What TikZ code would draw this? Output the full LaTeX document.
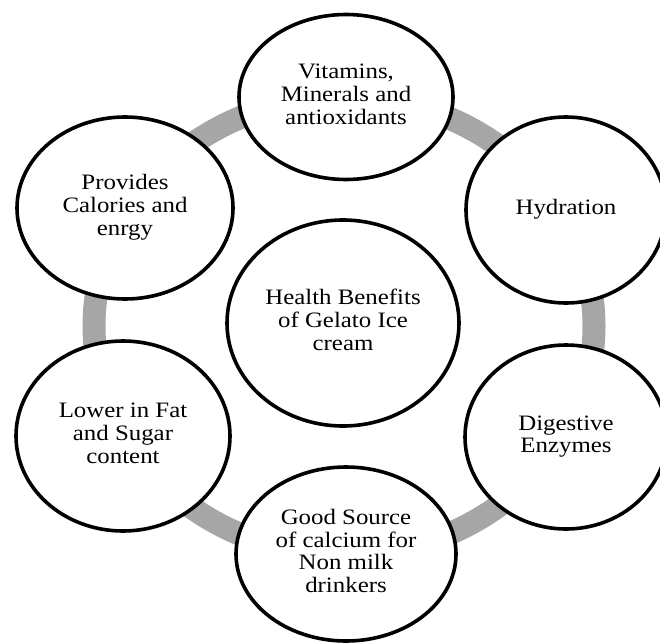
\documentclass[tikz,border=0pt]{standalone}
\usepackage{fontspec}
\setmainfont{Liberation Serif}
\usepackage{graphicx}
\usetikzlibrary{shapes.geometric}
\definecolor{ringgray}{HTML}{A6A6A6}
% centred multi-line label, slightly widened
\newcommand\bubbletext[1]{\scalebox{1.13}[1]{\begin{tabular}{@{}c@{}}#1\end{tabular}}}
\begin{document}
\begin{tikzpicture}[x=1pt,y=-1pt,
  bubble/.style={ellipse, draw=black, line width=3.6pt, fill=white,
    inner sep=0pt, text=black, font=\fontsize{22}{22.7}\selectfont},
  ringline/.style={draw=ringgray, line width=23pt}]
\useasboundingbox (0,0) rectangle (660,642);
\clip (0,0) rectangle (660,642);
\fill[white] (0,0) rectangle (660,642);

% grey ring linking the outer bubbles
\coordinate (hub) at (344,326);
\draw[ringline] (hub) ellipse [x radius=250pt, y radius=229pt];

% outer bubbles
\node[bubble, minimum width=214pt, minimum height=165pt] (vit) at (346,97)
  {\bubbletext{Vitamins,\\Minerals and\\antioxidants}};
\node[bubble, minimum width=200pt, minimum height=186pt] (hyd) at (566,210)
  {\bubbletext{Hydration}};
\node[bubble, minimum width=202pt, minimum height=184pt] (dig) at (566,437)
  {\bubbletext{Digestive\\Enzymes}};
\node[bubble, minimum width=220pt, minimum height=174pt] (cal) at (346,554)
  {\bubbletext{Good Source\\of calcium for\\Non milk\\drinkers}};
\node[bubble, minimum width=214pt, minimum height=190pt] (fat) at (123,436)
  {\bubbletext{Lower in Fat\\and Sugar\\content}};
\node[bubble, minimum width=216pt, minimum height=182pt] (cal2) at (125,208)
  {\bubbletext{Provides\\Calories and\\enrgy}};

% central bubble
\node[bubble, minimum width=232pt, minimum height=206pt] (core) at (343,323)
  {\bubbletext{Health Benefits\\of Gelato Ice\\cream}};
\end{tikzpicture}
\end{document}
